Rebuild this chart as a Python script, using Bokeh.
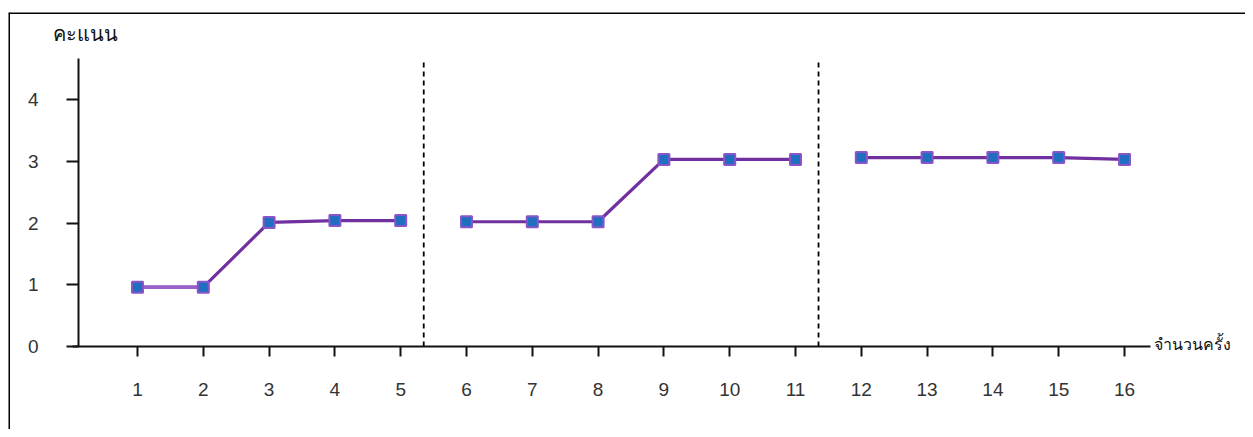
from bokeh.plotting import figure
from bokeh.models import LinearAxis, Range1d, FixedTicker, Span, Label
from bokeh.embed import file_html
from bokeh.resources import INLINE

# ---- data ----
sessions_a = [1, 2, 3, 4, 5]
scores_a = [0.96, 0.96, 2.01, 2.04, 2.04]
sessions_b = [6, 7, 8, 9, 10, 11]
scores_b = [2.02, 2.02, 2.02, 3.03, 3.03, 3.03]
sessions_c = [12, 13, 14, 15, 16]
scores_c = [3.06, 3.06, 3.06, 3.06, 3.03]
phase_dividers = [5.35, 11.35]
x_ticks = list(range(1, 17))
y_ticks = [0, 1, 2, 3, 4]
y_title = "คะแนน"
x_title = "จำนวนครั้ง"

# ---- layout (pixels, in picture coordinates) ----
W, H = 1245, 429
frame_left_px, frame_top_px = 8, 12
x1_px, px_per_x = 137.0, 65.8
y0_px, px_per_y = 346.0, 61.75

x_start = 1 - (x1_px - frame_left_px) / px_per_x
x_end = 1 + (W - x1_px) / px_per_x
y_end = (y0_px - frame_top_px) / px_per_y
y_start = -(H - y0_px) / px_per_y

def px_to_x(px):
    return 1 + (px - x1_px) / px_per_x

def py_to_y(py):
    return (y0_px - py) / px_per_y

p = figure(width=W, height=H, output_backend="svg", toolbar_location=None,
           x_axis_type=None, y_axis_type=None,
           x_range=Range1d(x_start, x_end), y_range=Range1d(y_start, y_end),
           min_border_left=frame_left_px, min_border_right=0, min_border_bottom=0,
           min_border_top=frame_top_px)
p.grid.visible = False
p.outline_line_color = None
p.background_fill_color = "white"
p.border_fill_color = "white"

# frame border (top & left visible in the reference)
p.add_layout(Span(location=x_start, dimension="height", line_color="black", line_width=3))
p.add_layout(Span(location=y_end, dimension="width", line_color="black", line_width=3))

tick_font = "Liberation Sans"

xaxis = LinearAxis(fixed_location=0, ticker=FixedTicker(ticks=x_ticks),
                   bounds=(px_to_x(72), px_to_x(1150)))
xaxis.axis_line_color = "#111111"
xaxis.axis_line_width = 2
xaxis.major_tick_out = 10
xaxis.major_tick_in = 0
xaxis.major_tick_line_width = 2
xaxis.major_tick_line_color = "#111111"
xaxis.minor_tick_line_color = None
xaxis.major_label_text_font = tick_font
xaxis.major_label_text_font_size = "19px"
xaxis.major_label_text_color = "#333333"
xaxis.major_label_standoff = 26
p.add_layout(xaxis, "below")

yaxis = LinearAxis(fixed_location=px_to_x(78), ticker=FixedTicker(ticks=y_ticks),
                   bounds=(0, py_to_y(58)))
yaxis.axis_line_color = "#111111"
yaxis.axis_line_width = 2
yaxis.major_tick_out = 12
yaxis.major_tick_in = 0
yaxis.major_tick_line_width = 2
yaxis.major_tick_line_color = "#111111"
yaxis.minor_tick_line_color = None
yaxis.major_label_text_font = tick_font
yaxis.major_label_text_font_size = "19px"
yaxis.major_label_text_color = "#333333"
yaxis.major_label_standoff = 28
p.add_layout(yaxis, "left")

# phase dividers
for d in phase_dividers:
    p.segment(x0=[d], y0=[0], x1=[d], y1=[py_to_y(58)], line_color="black",
              line_width=1.8, line_dash="5 4")

line_dark = "#7030a0"
line_light = "#9a62c8"
for xs, ys in [(sessions_a, scores_a), (sessions_b, scores_b), (sessions_c, scores_c)]:
    p.line(xs, ys, line_color=line_dark, line_width=3.2)
p.line(sessions_a[:2], scores_a[:2], line_color=line_light, line_width=3.2)
for xs, ys in [(sessions_a, scores_a), (sessions_b, scores_b), (sessions_c, scores_c)]:
    p.scatter(xs, ys, marker="square", size=11, fill_color="#1f6ebf",
              line_color="#8a55c8", line_width=2)

p.add_layout(Label(x=px_to_x(52), y=py_to_y(33), text=y_title, text_align="left",
                   text_baseline="middle", text_font="Noto Sans",
                   text_font_size="20px", text_color="#111111"))
p.add_layout(Label(x=px_to_x(1153), y=py_to_y(343), text=x_title, text_align="left",
                   text_baseline="middle", text_font="Noto Sans",
                   text_font_size="16px", text_color="#111111"))

open("out.html", "w").write(file_html(p, INLINE))
